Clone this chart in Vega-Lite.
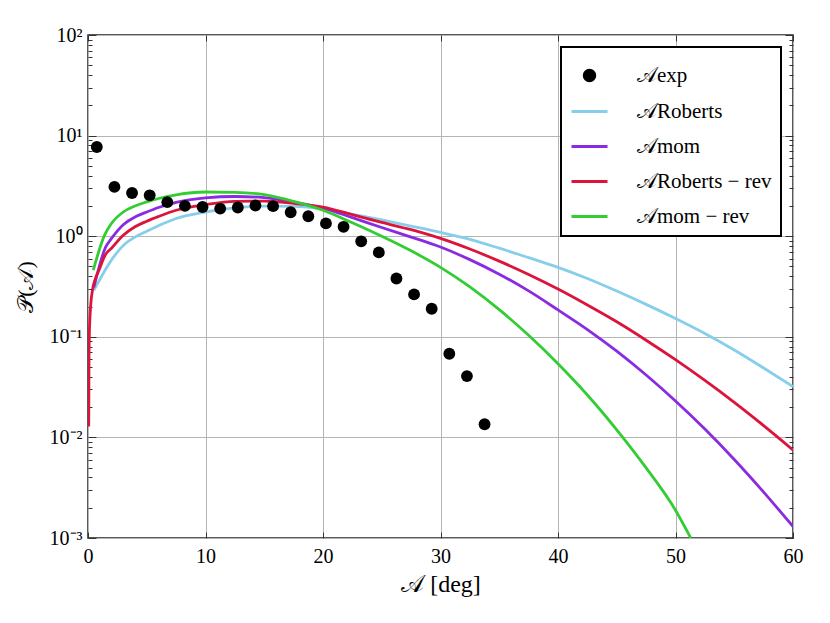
{
  "$schema": "https://vega.github.io/schema/vega-lite/v6.json",
  "width": 705,
  "height": 503,
  "autosize": "none",
  "padding": {"left": 88, "top": 35, "right": 37, "bottom": 85},
  "background": "white",
  "datasets": {
    "curves": [
      {"series": "Roberts", "x": 0.5, "p": 0.29},
      {"series": "Roberts", "x": 1, "p": 0.37},
      {"series": "Roberts", "x": 1.5, "p": 0.47},
      {"series": "Roberts", "x": 2, "p": 0.58},
      {"series": "Roberts", "x": 3, "p": 0.81},
      {"series": "Roberts", "x": 4, "p": 0.98},
      {"series": "Roberts", "x": 5, "p": 1.12},
      {"series": "Roberts", "x": 6, "p": 1.27},
      {"series": "Roberts", "x": 7.5, "p": 1.5},
      {"series": "Roberts", "x": 10, "p": 1.74},
      {"series": "Roberts", "x": 12.5, "p": 1.91},
      {"series": "Roberts", "x": 15, "p": 1.99},
      {"series": "Roberts", "x": 17.5, "p": 1.98},
      {"series": "Roberts", "x": 20, "p": 1.87},
      {"series": "Roberts", "x": 22.5, "p": 1.65},
      {"series": "Roberts", "x": 25, "p": 1.45},
      {"series": "Roberts", "x": 27.5, "p": 1.26},
      {"series": "Roberts", "x": 30, "p": 1.09},
      {"series": "Roberts", "x": 32.5, "p": 0.93},
      {"series": "Roberts", "x": 35, "p": 0.76},
      {"series": "Roberts", "x": 37.5, "p": 0.612},
      {"series": "Roberts", "x": 40, "p": 0.49},
      {"series": "Roberts", "x": 42.5, "p": 0.38},
      {"series": "Roberts", "x": 45, "p": 0.285},
      {"series": "Roberts", "x": 47.5, "p": 0.21},
      {"series": "Roberts", "x": 50, "p": 0.152},
      {"series": "Roberts", "x": 52.5, "p": 0.108},
      {"series": "Roberts", "x": 55, "p": 0.074},
      {"series": "Roberts", "x": 57.5, "p": 0.049},
      {"series": "Roberts", "x": 60, "p": 0.032},
      {"series": "mom", "x": 0.5, "p": 0.31},
      {"series": "mom", "x": 1.5, "p": 0.78},
      {"series": "mom", "x": 2, "p": 0.95},
      {"series": "mom", "x": 3, "p": 1.3},
      {"series": "mom", "x": 4, "p": 1.55},
      {"series": "mom", "x": 5, "p": 1.74},
      {"series": "mom", "x": 6, "p": 1.93},
      {"series": "mom", "x": 7.5, "p": 2.17},
      {"series": "mom", "x": 10, "p": 2.4},
      {"series": "mom", "x": 12.5, "p": 2.48},
      {"series": "mom", "x": 15, "p": 2.42},
      {"series": "mom", "x": 17.5, "p": 2.18},
      {"series": "mom", "x": 20, "p": 1.9},
      {"series": "mom", "x": 22.5, "p": 1.53},
      {"series": "mom", "x": 25, "p": 1.22},
      {"series": "mom", "x": 27.5, "p": 0.98},
      {"series": "mom", "x": 30, "p": 0.78},
      {"series": "mom", "x": 32.5, "p": 0.585},
      {"series": "mom", "x": 35, "p": 0.419},
      {"series": "mom", "x": 37.5, "p": 0.286},
      {"series": "mom", "x": 40, "p": 0.185},
      {"series": "mom", "x": 42.5, "p": 0.118},
      {"series": "mom", "x": 45, "p": 0.072},
      {"series": "mom", "x": 47.5, "p": 0.0417},
      {"series": "mom", "x": 50, "p": 0.023},
      {"series": "mom", "x": 52.5, "p": 0.0121},
      {"series": "mom", "x": 55, "p": 0.00603},
      {"series": "mom", "x": 57.5, "p": 0.00286},
      {"series": "mom", "x": 60, "p": 0.0013},
      {"series": "Roberts-rev", "x": 0.06, "p": 0.0128},
      {"series": "Roberts-rev", "x": 0.085, "p": 0.06},
      {"series": "Roberts-rev", "x": 0.11, "p": 0.1},
      {"series": "Roberts-rev", "x": 0.16, "p": 0.15},
      {"series": "Roberts-rev", "x": 0.23, "p": 0.206},
      {"series": "Roberts-rev", "x": 0.4, "p": 0.3},
      {"series": "Roberts-rev", "x": 0.6, "p": 0.37},
      {"series": "Roberts-rev", "x": 0.9, "p": 0.45},
      {"series": "Roberts-rev", "x": 1.5, "p": 0.66},
      {"series": "Roberts-rev", "x": 2, "p": 0.76},
      {"series": "Roberts-rev", "x": 3, "p": 1.02},
      {"series": "Roberts-rev", "x": 4, "p": 1.24},
      {"series": "Roberts-rev", "x": 5, "p": 1.41},
      {"series": "Roberts-rev", "x": 6, "p": 1.57},
      {"series": "Roberts-rev", "x": 7.5, "p": 1.81},
      {"series": "Roberts-rev", "x": 10, "p": 2.06},
      {"series": "Roberts-rev", "x": 12.5, "p": 2.22},
      {"series": "Roberts-rev", "x": 15, "p": 2.23},
      {"series": "Roberts-rev", "x": 17.5, "p": 2.12},
      {"series": "Roberts-rev", "x": 20, "p": 1.95},
      {"series": "Roberts-rev", "x": 22.5, "p": 1.64},
      {"series": "Roberts-rev", "x": 25, "p": 1.37},
      {"series": "Roberts-rev", "x": 27.5, "p": 1.16},
      {"series": "Roberts-rev", "x": 30, "p": 0.95},
      {"series": "Roberts-rev", "x": 32.5, "p": 0.745},
      {"series": "Roberts-rev", "x": 35, "p": 0.565},
      {"series": "Roberts-rev", "x": 37.5, "p": 0.416},
      {"series": "Roberts-rev", "x": 40, "p": 0.298},
      {"series": "Roberts-rev", "x": 42.5, "p": 0.207},
      {"series": "Roberts-rev", "x": 45, "p": 0.141},
      {"series": "Roberts-rev", "x": 47.5, "p": 0.0925},
      {"series": "Roberts-rev", "x": 50, "p": 0.0592},
      {"series": "Roberts-rev", "x": 52.5, "p": 0.0368},
      {"series": "Roberts-rev", "x": 55, "p": 0.0223},
      {"series": "Roberts-rev", "x": 57.5, "p": 0.0131},
      {"series": "Roberts-rev", "x": 60, "p": 0.0075},
      {"series": "mom-rev", "x": 0.45, "p": 0.46},
      {"series": "mom-rev", "x": 1.4, "p": 1.02},
      {"series": "mom-rev", "x": 2, "p": 1.34},
      {"series": "mom-rev", "x": 3, "p": 1.74},
      {"series": "mom-rev", "x": 4, "p": 2.0},
      {"series": "mom-rev", "x": 5, "p": 2.19},
      {"series": "mom-rev", "x": 6, "p": 2.37},
      {"series": "mom-rev", "x": 7.5, "p": 2.58},
      {"series": "mom-rev", "x": 10, "p": 2.75},
      {"series": "mom-rev", "x": 12.5, "p": 2.73},
      {"series": "mom-rev", "x": 15, "p": 2.59},
      {"series": "mom-rev", "x": 17.5, "p": 2.22},
      {"series": "mom-rev", "x": 20, "p": 1.81},
      {"series": "mom-rev", "x": 22.5, "p": 1.36},
      {"series": "mom-rev", "x": 25, "p": 0.998},
      {"series": "mom-rev", "x": 27.5, "p": 0.715},
      {"series": "mom-rev", "x": 30, "p": 0.49},
      {"series": "mom-rev", "x": 32.5, "p": 0.313},
      {"series": "mom-rev", "x": 35, "p": 0.186},
      {"series": "mom-rev", "x": 37.5, "p": 0.1035},
      {"series": "mom-rev", "x": 40, "p": 0.054},
      {"series": "mom-rev", "x": 42.5, "p": 0.0264},
      {"series": "mom-rev", "x": 45, "p": 0.0119},
      {"series": "mom-rev", "x": 47.5, "p": 0.00498},
      {"series": "mom-rev", "x": 50, "p": 0.00189},
      {"series": "mom-rev", "x": 51.3, "p": 0.001}
    ],
    "experiment": [
      {"series": "exp", "x": 0.75, "p": 7.71},
      {"series": "exp", "x": 2.25, "p": 3.09},
      {"series": "exp", "x": 3.75, "p": 2.69},
      {"series": "exp", "x": 5.25, "p": 2.55},
      {"series": "exp", "x": 6.75, "p": 2.18},
      {"series": "exp", "x": 8.25, "p": 2.0},
      {"series": "exp", "x": 9.75, "p": 1.95},
      {"series": "exp", "x": 11.25, "p": 1.88},
      {"series": "exp", "x": 12.75, "p": 1.93},
      {"series": "exp", "x": 14.25, "p": 2.02},
      {"series": "exp", "x": 15.75, "p": 1.99},
      {"series": "exp", "x": 17.25, "p": 1.73},
      {"series": "exp", "x": 18.75, "p": 1.58},
      {"series": "exp", "x": 20.25, "p": 1.34},
      {"series": "exp", "x": 21.75, "p": 1.24},
      {"series": "exp", "x": 23.25, "p": 0.89},
      {"series": "exp", "x": 24.75, "p": 0.69},
      {"series": "exp", "x": 26.25, "p": 0.38},
      {"series": "exp", "x": 27.75, "p": 0.264},
      {"series": "exp", "x": 29.25, "p": 0.19},
      {"series": "exp", "x": 30.75, "p": 0.0678},
      {"series": "exp", "x": 32.25, "p": 0.0407},
      {"series": "exp", "x": 33.75, "p": 0.0135}
    ]
  },
  "layer": [
    {
      "data": {"name": "curves"},
      "mark": {"type": "line", "strokeWidth": 2.8, "clip": true, "interpolate": "monotone"},
      "encoding": {
        "x": {
          "field": "x",
          "type": "quantitative",
          "scale": {"domain": [0, 60], "nice": false},
          "axis": {
            "orient": "bottom",
            "values": [0, 10, 20, 30, 40, 50, 60],
            "title": "𝒜 [deg]",
            "titleFontSize": 24,
            "titlePadding": 6,
            "tickSize": -6,
            "labelPadding": 14,
            "labelFlush": false,
            "grid": true
          }
        },
        "y": {
          "field": "p",
          "type": "quantitative",
          "scale": {"type": "log", "domain": [0.001, 100], "nice": false},
          "axis": {
            "orient": "left",
            "values": [0.001, 0.002, 0.003, 0.004, 0.005, 0.006, 0.007, 0.008, 0.009, 0.01, 0.02, 0.03, 0.04, 0.05, 0.06, 0.07, 0.08, 0.09, 0.1, 0.2, 0.3, 0.4, 0.5, 0.6, 0.7, 0.8, 0.9, 1, 2, 3, 4, 5, 6, 7, 8, 9, 10, 20, 30, 40, 50, 60, 70, 80, 90, 100],
            "labelExpr": "datum.value == 100 ? '10²' : datum.value == 10 ? '10¹' : datum.value == 1 ? '10⁰' : datum.value == 0.1 ? '10⁻¹' : datum.value == 0.01 ? '10⁻²' : datum.value == 0.001 ? '10⁻³' : ''",
            "labelFlush": false,
            "title": "𝒫(𝒜)",
            "titleFontSize": 22,
            "titlePadding": 12,
            "grid": true,
            "gridOpacity": {"condition": {"test": "indexof([0.001, 0.01, 0.1, 1, 10, 100], datum.value) >= 0", "value": 1}, "value": 0},
            "tickSize": {"condition": {"test": "indexof([0.001, 0.01, 0.1, 1, 10, 100], datum.value) >= 0", "value": -8}, "value": -4},
            "labelPadding": 14
          }
        },
        "color": {
          "field": "series",
          "type": "nominal",
          "scale": {
            "domain": ["exp", "Roberts", "mom", "Roberts-rev", "mom-rev"],
            "range": ["black", "#87ceeb", "#8a2be2", "#dc143c", "#32cd32"]
          },
          "legend": {
            "title": null,
            "orient": "top-right",
            "offset": 12,
            "symbolType": "stroke",
            "symbolSize": 1296,
            "symbolStrokeWidth": 3,
            "labelFont": "Liberation Serif",
            "labelFontSize": 21,
            "labelOffset": 28,
            "padding": 9,
            "rowPadding": 5,
            "strokeColor": "black",
            "fillColor": "white",
            "labelExpr": "datum.label == 'exp' ? '𝒜exp' : datum.label == 'Roberts' ? '𝒜Roberts' : datum.label == 'mom' ? '𝒜mom' : datum.label == 'Roberts-rev' ? '𝒜Roberts − rev' : '𝒜mom − rev'",
            "encode": {
              "symbols": {
                "update": {
                  "shape": {"signal": "datum.value == 'exp' ? 'circle' : 'stroke'"},
                  "size": {"signal": "datum.value == 'exp' ? 110 : 1296"},
                  "fill": {"signal": "datum.value == 'exp' ? 'black' : 'transparent'"},
                  "stroke": {"signal": "datum.value == 'exp' ? 'transparent' : scale('color', datum.value)"}
                }
              }
            }
          }
        },
        "order": {"field": "x", "type": "quantitative"}
      }
    },
    {
      "data": {"name": "experiment"},
      "mark": {"type": "point", "filled": true, "size": 140, "opacity": 1},
      "encoding": {
        "x": {
          "field": "x",
          "type": "quantitative",
          "axis": {
            "orient": "top",
            "values": [0, 10, 20, 30, 40, 50, 60],
            "labels": false,
            "title": null,
            "tickSize": -6,
            "grid": false
          }
        },
        "y": {
          "field": "p",
          "type": "quantitative",
          "axis": {
            "orient": "right",
            "values": [0.001, 0.002, 0.003, 0.004, 0.005, 0.006, 0.007, 0.008, 0.009, 0.01, 0.02, 0.03, 0.04, 0.05, 0.06, 0.07, 0.08, 0.09, 0.1, 0.2, 0.3, 0.4, 0.5, 0.6, 0.7, 0.8, 0.9, 1, 2, 3, 4, 5, 6, 7, 8, 9, 10, 20, 30, 40, 50, 60, 70, 80, 90, 100],
            "labels": false,
            "title": null,
            "grid": false,
            "tickSize": {"condition": {"test": "indexof([0.001, 0.01, 0.1, 1, 10, 100], datum.value) >= 0", "value": -8}, "value": -4}
          }
        },
        "color": {"field": "series", "type": "nominal"}
      }
    }
  ],
  "resolve": {"axis": {"x": "independent", "y": "independent"}},
  "config": {
    "font": "Liberation Serif",
    "view": {"stroke": "#222", "strokeWidth": 1.5},
    "axis": {
      "domain": false,
      "labelFont": "Liberation Serif",
      "labelFontSize": 20,
      "labelColor": "black",
      "titleFont": "Liberation Serif",
      "titleFontWeight": "normal",
      "titleColor": "black",
      "tickColor": "#333",
      "tickWidth": 1,
      "gridColor": "#b5b5b5",
      "gridWidth": 1
    },
    "legend": {"strokeWidth": 2, "cornerRadius": 0}
  }
}
